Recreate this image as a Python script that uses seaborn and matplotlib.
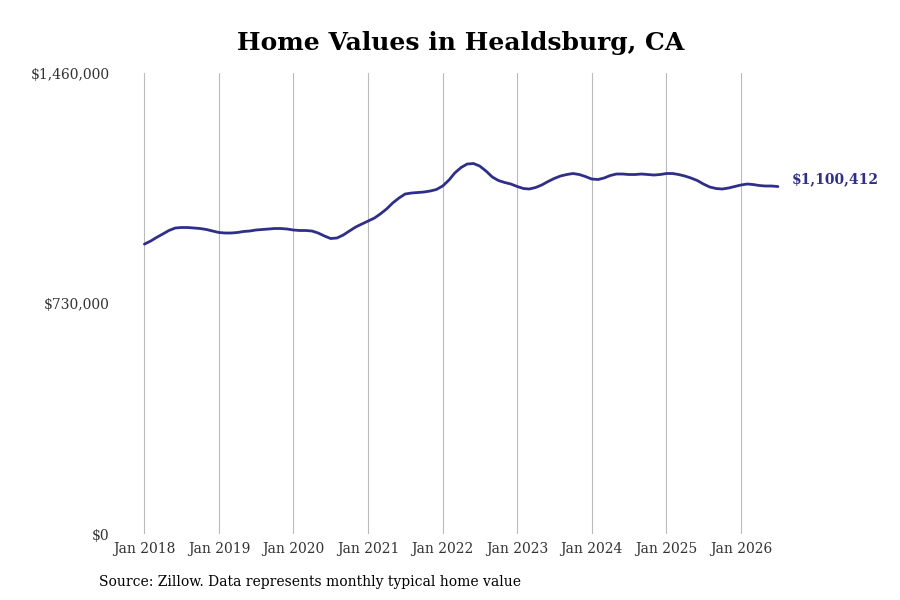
import pandas as pd
import numpy as np
import matplotlib
matplotlib.use("Agg")
import matplotlib.pyplot as plt
import matplotlib.dates as mdates
import seaborn as sns

# Monthly typical home value, Jan 2018 - Jul 2026
home_values = [
    918000, 927950, 939030, 950120, 961200, 969120, 970700, 970700, 969120, 967540, 964370, 959620,
    954870, 953290, 953290, 954870, 958040, 959620, 962790, 964370, 965950, 967540, 967540, 965950,
    962790, 961200, 961200, 959620, 953290, 943790, 935870, 937450, 946950, 959620, 972290, 981790,
    991290, 1000790, 1013460, 1029290, 1048300, 1064130, 1076800, 1079970, 1081550, 1083130, 1086300, 1091050,
    1102140, 1121140, 1143310, 1160730, 1171810, 1173400, 1165480, 1149640, 1130640, 1119560, 1113220, 1108470,
    1100550, 1094220, 1092640, 1097390, 1105300, 1116390, 1125890, 1133810, 1138560, 1141730, 1138560, 1132220,
    1124310, 1122720, 1127470, 1135390, 1140140, 1140140, 1138560, 1138560, 1140140, 1138560, 1136970, 1138560,
    1141730, 1141730, 1138560, 1133810, 1127470, 1119560, 1108470, 1098970, 1094220, 1092640, 1095800, 1100550,
    1105300, 1108470, 1106890, 1103720, 1102140, 1102140, 1100412,
]
dates = pd.date_range("2018-01-01", periods=len(home_values), freq="MS")
y_ticks = [0, 730000, 1460000]
y_tick_labels = ["$0", "$730,000", "$1,460,000"]
title = "Home Values in Healdsburg, CA"
source = "Source: Zillow. Data represents monthly typical home value"
line_color = "#2f2f8a"

df = pd.DataFrame({"date": dates, "value": home_values})

sns.set_theme(style="white")
plt.rcParams["font.family"] = ["DejaVu Serif"]

fig = plt.figure(figsize=(9, 6), dpi=100)
ax = fig.add_axes([0.128, 0.11, 0.762, 0.7683])

sns.lineplot(data=df, x="date", y="value", ax=ax, color=line_color, linewidth=2)

ax.set_ylim(0, 1460000)
ax.set_yticks(y_ticks)
ax.set_yticklabels(y_tick_labels, fontsize=10, color="#333333")
ax.set_xlim(pd.Timestamp("2017-08-11"), pd.Timestamp("2026-10-22"))
ax.xaxis.set_major_locator(mdates.YearLocator())
ax.xaxis.set_major_formatter(mdates.DateFormatter("Jan %Y"))
ax.tick_params(axis="x", labelsize=10, colors="#333333", length=4, color="#bbbbbb", pad=2)
ax.tick_params(axis="y", length=0, pad=4)
ax.grid(axis="x", color="#bbbbbb", linewidth=0.8)
ax.grid(axis="y", visible=False)
for s in ax.spines.values():
    s.set_visible(False)
ax.set_xlabel("")
ax.set_ylabel("")

# label at the last point
ax.annotate(f"${home_values[-1]:,}", xy=(dates[-1], home_values[-1]),
            xytext=(10, 5), textcoords="offset points", va="center", ha="left",
            fontsize=10, fontweight="bold", color=line_color)

fig.text(0.512, 0.928, title, ha="center", va="center", fontsize=18,
         fontweight="bold", color="black")
fig.text(0.11, 0.03, source, ha="left", va="center", fontsize=10, color="black")

fig.savefig("out.png", dpi=100)
